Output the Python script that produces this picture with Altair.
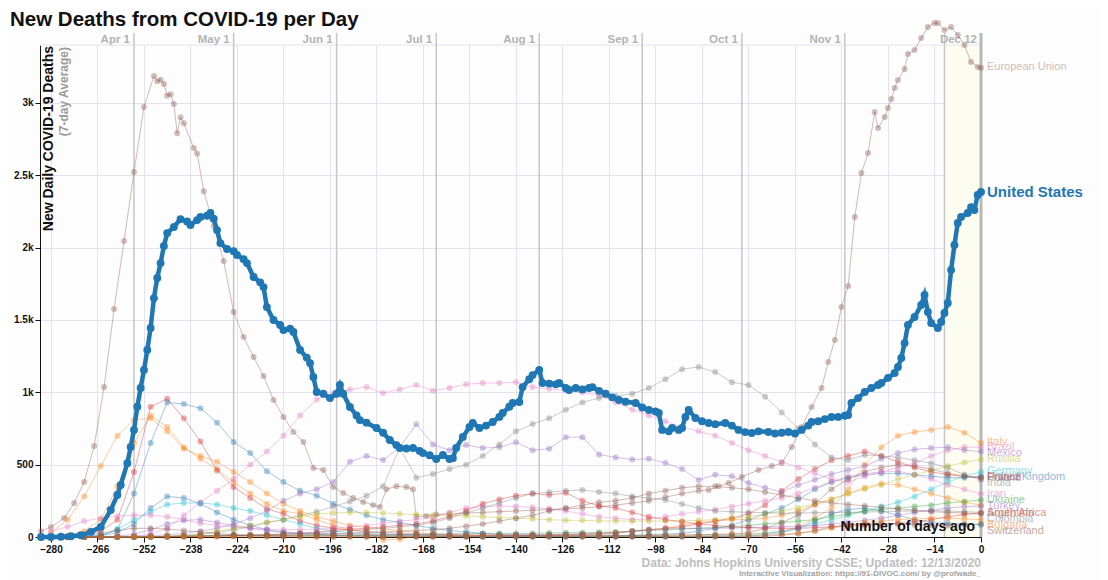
import altair as alt
import pandas as pd

FONT = "Liberation Sans"

TITLE = "New Deaths from COVID-19 per Day"
Y_TITLE = "New Daily COVID-19 Deaths"
Y_SUBTITLE = "(7-day Average)"
X_TITLE = "Number of days ago"
SOURCE = "Data: Johns Hopkins University CSSE; Updated: 12/13/2020"
CREDIT = "Interactive Visualization: https://91-DIVOC.com/ by @profwade_"

X_TICKS = [-280, -266, -252, -238, -224, -210, -196, -182, -168, -154, -140,
           -126, -112, -98, -84, -70, -56, -42, -28, -14, 0]
Y_TICKS = [0, 500, 1000, 1500, 2000, 2500, 3000]

MONTH_NAMES = ["Apr 1", "May 1", "Jun 1", "Jul 1", "Aug 1", "Sep 1", "Oct 1", "Nov 1", "Dec 1", "Dec 12"]
MONTH_DAYS = [-255, -225, -194, -164, -133, -102, -72, -41, -11, 0]
MONTH_LABELLED = [True, True, True, True, True, True, True, True, False, True]

# United States (day, deaths)
US_SERIES = [
    (-283, 0), (-280, 0), (-277, 2), (-274, 5), (-271, 12), (-268, 35), (-265, 70), (-262, 187),
    (-260, 290), (-259, 360), (-257, 510), (-256, 622), (-255, 740), (-254, 900), (-253, 1030),
    (-252, 1154), (-251, 1292), (-250, 1444), (-249, 1651), (-248, 1790), (-247, 1893), (-246, 2011),
    (-245, 2100), (-243, 2142), (-241, 2197), (-239, 2180), (-238, 2156), (-236, 2190), (-235, 2211),
    (-233, 2220), (-232, 2239), (-231, 2200), (-230, 2121), (-229, 2031), (-227, 1990), (-225, 1975),
    (-224, 1949), (-222, 1920), (-221, 1893), (-219, 1797), (-217, 1760), (-216, 1727), (-215, 1589),
    (-213, 1500), (-211, 1465), (-210, 1430), (-208, 1440), (-207, 1417), (-205, 1292), (-203, 1240),
    (-202, 1202), (-201, 1106), (-200, 1002), (-198, 990), (-196, 960), (-194, 990), (-193, 1050),
    (-192, 990), (-190, 898), (-188, 840), (-187, 808), (-185, 790), (-182, 753), (-180, 720),
    (-178, 670), (-176, 635), (-175, 615), (-173, 612), (-171, 615), (-169, 595), (-168, 580),
    (-166, 565), (-164, 539), (-162, 567), (-160, 539), (-159, 545), (-158, 615), (-156, 691),
    (-154, 760), (-153, 788), (-151, 753), (-149, 770), (-147, 795), (-145, 830), (-144, 857),
    (-142, 900), (-141, 926), (-139, 933), (-138, 1036), (-136, 1090), (-135, 1119), (-133, 1154),
    (-132, 1064), (-130, 1060), (-128, 1055), (-127, 1064), (-125, 1030), (-124, 1016), (-122, 1030),
    (-120, 1020), (-118, 1030), (-117, 1036), (-115, 1010), (-113, 990), (-111, 965), (-109, 947),
    (-107, 935), (-104, 926), (-102, 895), (-100, 878), (-98, 868), (-97, 857), (-96, 740),
    (-94, 730), (-93, 753), (-91, 740), (-90, 753), (-89, 830), (-88, 878), (-86, 822), (-84, 800),
    (-82, 788), (-80, 780), (-77, 788), (-75, 770), (-73, 740), (-71, 725), (-69, 719), (-67, 730),
    (-64, 726), (-62, 715), (-60, 720), (-58, 726), (-56, 715), (-54, 740), (-52, 770), (-51, 795),
    (-49, 800), (-47, 815), (-45, 829), (-43, 830), (-41, 838), (-40, 843), (-39, 926), (-37, 960),
    (-35, 1002), (-33, 1030), (-31, 1050), (-30, 1064), (-28, 1100), (-26, 1133), (-25, 1175),
    (-24, 1237), (-23, 1340), (-22, 1465), (-20, 1520), (-18, 1603), (-17, 1672), (-16, 1555),
    (-15, 1479), (-13, 1444), (-12, 1486), (-11, 1548), (-10, 1617), (-9, 1845), (-8, 2018),
    (-7, 2170), (-6, 2211), (-4, 2239), (-3, 2280), (-2, 2260), (-1, 2363), (0, 2384),
]

# European Union (day, deaths)
EU_SERIES = [
    (-283, 40), (-280, 69), (-276, 131), (-273, 235), (-270, 380), (-267, 629), (-264, 1036),
    (-261, 1575), (-258, 2045), (-255, 2522), (-252, 2971), (-249, 3186), (-248, 3150), (-247, 3160),
    (-246, 3130), (-245, 3050), (-244, 3060), (-243, 2992), (-242, 2790), (-241, 2900), (-240, 2860),
    (-237, 2688), (-236, 2650), (-234, 2390), (-231, 2150), (-228, 1907), (-225, 1555), (-222, 1382),
    (-219, 1244), (-216, 1113), (-213, 947), (-210, 829), (-207, 726), (-204, 657), (-201, 477),
    (-198, 463), (-195, 346), (-192, 304), (-189, 270), (-186, 242), (-183, 221), (-181, 207),
    (-179, 330), (-176, 350), (-173, 345), (-171, 330), (-170, 140), (-167, 145), (-164, 155),
    (-160, 160), (-155, 165), (-150, 170), (-145, 175), (-140, 180), (-135, 185), (-130, 190),
    (-125, 195), (-120, 200), (-115, 210), (-110, 220), (-105, 235), (-100, 250), (-95, 275),
    (-90, 300), (-85, 320), (-82, 325), (-79, 350), (-76, 373), (-72, 415), (-67, 463), (-63, 490),
    (-60, 511), (-57, 622), (-54, 760), (-51, 898), (-48, 1030), (-46, 1209), (-44, 1361),
    (-42, 1589), (-40, 1734), (-38, 2211), (-36, 2515), (-34, 2653), (-32, 2937), (-31, 2826),
    (-29, 2902), (-28, 2964), (-27, 3026), (-26, 3103), (-25, 3158), (-23, 3234), (-22, 3337),
    (-20, 3365), (-18, 3448), (-16, 3524), (-14, 3552), (-13, 3552), (-11, 3503), (-9, 3524),
    (-7, 3469), (-5, 3400), (-3, 3282), (-1, 3248), (0, 3241),
]

# other countries, sampled every 5 days from -280 to 0
GRID_DAYS = list(range(-280, 1, 5))

ITALY = [30, 120, 280, 490, 700, 810, 820, 730, 610, 560, 520, 450, 380, 300, 230, 180, 140, 110, 80, 65,
         55, 45, 30, 22, 15, 12, 10, 8, 6, 5, 5, 6, 7, 8, 8, 9, 10, 12, 13, 15,
         18, 20, 22, 28, 40, 70, 130, 200, 330, 500, 620, 700, 725, 740, 760, 720, 650]
SPAIN = [2, 10, 40, 120, 350, 650, 840, 760, 620, 540, 470, 380, 300, 230, 180, 160, 120, 80, 50, 30,
         -20, -15, 5, 5, 3, 3, 3, 5, 5, 5, 8, 10, 15, 20, 30, 40, 50, 60, 80, 100,
         110, 120, 120, 130, 150, 180, 220, 260, 300, 340, 370, 360, 330, 300, 270, 240, 220]
FRANCE = [2, 5, 15, 40, 120, 450, 900, 955, 820, 660, 460, 346, 270, 195, 160, 110, 80, 60, 50, 40,
          30, 25, 20, 15, 12, 10, 10, 10, 12, 12, 15, 18, 20, 25, 30, 40, 50, 60, 70, 90,
          110, 130, 160, 220, 320, 400, 470, 530, 560, 590, 560, 520, 480, 450, 430, 420, 410]
UK = [0, 2, 5, 10, 50, 300, 650, 930, 919, 890, 790, 657, 580, 455, 380, 320, 285, 230, 190, 150,
      120, 100, 80, 60, 45, 35, 25, 15, 12, 10, 10, 8, 8, 8, 9, 10, 15, 20, 25, 40,
      60, 80, 120, 160, 200, 260, 330, 380, 410, 430, 440, 440, 430, 420, 410, 410, 420]
GERMANY = [0, 0, 2, 8, 55, 117, 175, 225, 235, 235, 225, 200, 180, 150, 120, 90, 60, 40, 30, 25,
           20, 15, 10, 8, 6, 5, 5, 5, 5, 5, 5, 5, 5, 5, 6, 6, 6, 6, 6, 8,
           10, 12, 15, 25, 40, 60, 90, 120, 150, 180, 210, 240, 280, 330, 380, 420, 450]
BELGIUM = [0, 0, 2, 8, 30, 90, 200, 280, 270, 230, 170, 120, 80, 50, 35, 25, 20, 12, 8, 6,
           5, 5, 4, 4, 4, 3, 3, 3, 3, 3, 3, 3, 3, 3, 3, 3, 3, 4, 4, 4,
           5, 6, 8, 15, 30, 60, 110, 160, 190, 200, 180, 150, 120, 100, 95, 90, 85]
BRAZIL = [0, 0, 0, 0, 2, 5, 20, 60, 150, 240, 320, 400, 500, 590, 700, 840, 950, 995, 1020, 1036,
          995, 1020, 1050, 1010, 1030, 1055, 1064, 1064, 1070, 1036, 1025, 1010, 1000, 981, 930, 880, 840, 800, 760, 730,
          700, 650, 600, 560, 520, 480, 440, 400, 380, 420, 450, 480, 510, 560, 600, 620, 622]
MEXICO = [0, 0, 0, 0, 2, 5, 10, 15, 25, 40, 60, 90, 130, 180, 250, 300, 330, 380, 520, 560,
          532, 620, 780, 640, 600, 636, 615, 620, 655, 600, 610, 690, 690, 570, 550, 535, 540, 511, 470, 394,
          430, 420, 373, 340, 311, 360, 395, 435, 463, 490, 540, 580, 605, 615, 620, 600, 590]
INDIA = [0, 0, 0, 0, 0, 0, 2, 2, 10, 20, 30, 50, 70, 100, 120, 150, 175, 210, 245, 285,
         350, 615, 410, 435, 470, 500, 560, 640, 730, 781, 820, 880, 930, 960, 975, 990, 1030, 1090, 1160, 1175,
         1140, 1070, 1050, 970, 860, 750, 640, 550, 532, 567, 560, 550, 530, 510, 480, 430, 394]
IRAN = [40, 70, 110, 130, 145, 150, 150, 140, 120, 95, 80, 70, 60, 55, 50, 50, 55, 60, 70, 80,
        95, 110, 120, 140, 170, 200, 210, 215, 210, 205, 195, 180, 160, 140, 130, 120, 125, 140, 160, 175,
        190, 210, 230, 250, 270, 300, 340, 380, 420, 440, 450, 455, 430, 400, 360, 330, 297]
RUSSIA = [0, 0, 0, 0, 0, 0, 2, 5, 10, 20, 40, 60, 80, 100, 120, 140, 160, 165, 170, 170,
          165, 160, 155, 150, 150, 145, 140, 135, 130, 125, 120, 115, 115, 112, 110, 110, 110, 110, 112, 115,
          120, 130, 140, 160, 180, 200, 230, 260, 300, 330, 360, 400, 430, 460, 490, 515, 535]
UKRAINE = [0, 0, 0, 0, 0, 1, 2, 3, 5, 7, 10, 12, 12, 12, 12, 11, 10, 10, 10, 10,
           12, 15, 18, 20, 20, 22, 25, 25, 25, 25, 28, 30, 30, 32, 35, 40, 45, 50, 55, 60,
           65, 70, 80, 90, 100, 110, 120, 140, 160, 180, 190, 200, 210, 220, 235, 245, 256]
TURKEY = [0, 0, 0, 0, 5, 20, 50, 90, 115, 120, 100, 80, 60, 45, 30, 25, 25, 22, 20, 18,
          18, 18, 18, 18, 20, 20, 20, 19, 18, 18, 18, 19, 20, 22, 25, 40, 50, 55, 60, 60,
          60, 62, 65, 68, 70, 75, 80, 90, 100, 115, 130, 150, 170, 185, 200, 210, 214]
SOUTH_AFRICA = [0, 0, 0, 0, 0, 0, 1, 2, 3, 5, 7, 10, 12, 15, 20, 25, 35, 45, 55, 60,
                70, 80, 90, 110, 140, 180, 230, 260, 285, 300, 290, 305, 250, 215, 200, 170, 140, 120, 105, 90,
                80, 70, 65, 60, 60, 60, 65, 70, 75, 80, 85, 95, 105, 120, 140, 155, 166]
POLAND = [0, 0, 0, 0, 0, 1, 3, 5, 8, 10, 12, 12, 12, 12, 12, 12, 12, 12, 12, 12,
          10, 10, 10, 10, 8, 8, 8, 9, 10, 10, 11, 12, 12, 12, 12, 12, 12, 13, 14, 15,
          18, 20, 30, 60, 100, 150, 230, 330, 400, 450, 480, 500, 490, 470, 440, 420, 408]
COLOMBIA = [0, 0, 0, 0, 0, 1, 2, 3, 5, 7, 10, 12, 15, 18, 20, 25, 30, 38, 45, 52,
            60, 70, 80, 100, 130, 165, 200, 235, 270, 300, 310, 320, 325, 311, 300, 280, 270, 256, 228, 200,
            180, 175, 170, 168, 165, 165, 168, 170, 170, 172, 175, 178, 180, 182, 180, 175, 170]
ARGENTINA = [0, 0, 0, 0, 0, 0, 1, 2, 3, 4, 5, 6, 8, 10, 12, 15, 18, 22, 25, 30,
             35, 40, 45, 50, 60, 75, 90, 110, 130, 150, 180, 200, 220, 240, 250, 270, 300, 320, 340, 350,
             350, 340, 330, 310, 290, 270, 250, 235, 225, 215, 205, 195, 185, 175, 170, 165, 160]
BULGARIA = [0, 0, 0, 0, 0, 1, 1, 2, 2, 2, 2, 2, 2, 1, 1, 1, 1, 1, 2, 2,
            2, 3, 3, 4, 5, 5, 6, 6, 6, 5, 5, 5, 4, 4, 4, 4, 4, 4, 5, 5,
            6, 7, 8, 12, 18, 25, 40, 60, 80, 100, 110, 120, 125, 130, 130, 125, 120]
SWITZERLAND = [2, 5, 10, 25, 45, 60, 60, 55, 45, 35, 25, 15, 8, 5, 3, 2, 1, 1, 1, 1,
               1, 1, 1, 1, 1, 1, 1, 1, 1, 1, 1, 1, 1, 1, 1, 1, 1, 1, 1, 2,
               2, 2, 2, 5, 12, 25, 45, 70, 85, 90, 95, 90, 85, 80, 80, 85, 90]

GRID_SERIES = {
    "Italy": ITALY, "Spain": SPAIN, "France": FRANCE, "United Kingdom": UK,
    "Germany": GERMANY, "Belgium": BELGIUM, "Brazil": BRAZIL, "Mexico": MEXICO,
    "India": INDIA, "Iran": IRAN, "Russia": RUSSIA, "Ukraine": UKRAINE, "Turkey": TURKEY,
    "South Africa": SOUTH_AFRICA, "Poland": POLAND, "Colombia": COLOMBIA,
    "Argentina": ARGENTINA, "Bulgaria": BULGARIA, "Switzerland": SWITZERLAND,
}

COUNTRY_COLORS = {
    "European Union": "#8c564b", "Italy": "#ff7f0e", "Spain": "#ff7f0e", "France": "#d62728",
    "United Kingdom": "#1f77b4", "Germany": "#17becf", "Belgium": "#1f77b4", "Brazil": "#e377c2",
    "Mexico": "#9467bd", "India": "#7f7f7f", "Iran": "#e377c2", "Russia": "#bcbd22",
    "Ukraine": "#2ca02c", "Turkey": "#9467bd", "South Africa": "#d62728", "Poland": "#8c564b",
    "Colombia": "#7f7f7f", "Argentina": "#8c564b", "Bulgaria": "#ff7f0e", "Switzerland": "#8c564b",
}

LABEL_NAMES = ["Italy", "Brazil", "Mexico", "Russia", "Germany", "United Kingdom", "France", "Poland",
               "India", "Iran", "Ukraine", "Turkey", "South Africa", "Argentina", "Colombia",
               "Bulgaria", "Switzerland"]
LABEL_VALUES = [656, 622, 580, 539, 456, 415, 415, 408, 373, 297, 256, 214, 166, 166, 124, 83, 41]
EU_LABEL_VALUE = 3248
US_LABEL_VALUE = 2384

# ---------------------------------------------------------------- data frames
rows = [{"country": "European Union", "day": d, "deaths": v} for d, v in EU_SERIES]
for name, vals in GRID_SERIES.items():
    for d, v in zip(GRID_DAYS, vals):
        rows.append({"country": name, "day": d, "deaths": v})
others = pd.DataFrame(rows)
us = pd.DataFrame(US_SERIES, columns=["day", "deaths"])
months = pd.DataFrame({"day": MONTH_DAYS, "name": MONTH_NAMES, "show": MONTH_LABELLED})
labels = pd.DataFrame({"country": LABEL_NAMES, "lv": LABEL_VALUES, "day": 0})
ONE = pd.DataFrame({"k": [0]})

W, H = 941, 492
GRID_COLOR = "#e4e2f1"

XS = alt.Scale(domain=[-283.3, 0], nice=False, zero=False)
YS = alt.Scale(domain=[0, 3400], nice=False, zero=False)
XA = alt.Axis(values=X_TICKS, title=None, grid=True, labelFlush=False, tickSize=5, labelPadding=2)
YA = alt.Axis(values=Y_TICKS, title=None, grid=True, labelFlush=False, tickSize=5,
              labelExpr="datum.value >= 1000 ? format(datum.value / 1000, '~g') + 'k' : format(datum.value, 'd')")


def xe(f):
    return alt.X(f, type="quantitative", scale=XS, axis=XA)


def ye(f):
    return alt.Y(f, type="quantitative", scale=YS, axis=YA)


names = list(COUNTRY_COLORS.keys())
CS = alt.Scale(domain=names, range=[COUNTRY_COLORS[n] for n in names])

band = alt.Chart(pd.DataFrame({"start": [-11], "end": [0]})).mark_rect(color="#fcfcf1").encode(
    x=xe("start"), x2="end", y=alt.value(0), y2=alt.value(H))

top_line = alt.Chart(ONE).mark_rule(color=GRID_COLOR, strokeWidth=1).encode(
    x=alt.value(0), x2=alt.value(W), y=alt.value(0))

month_rules = alt.Chart(months).mark_rule(color="#c6c6c6", strokeWidth=1.5).encode(
    x=xe("day"), y=alt.value(-12), y2=alt.value(H))

zero_rule = alt.Chart(pd.DataFrame({"day": [0]})).mark_rule(color="#b8b8b8", strokeWidth=3).encode(
    x=xe("day"), y=alt.value(-12), y2=alt.value(H))

month_text = alt.Chart(months).transform_filter("datum.show").mark_text(
    align="right", baseline="alphabetic", dx=-4, font=FONT, fontSize=11.5, fontWeight="bold",
    color="#b3b3b3").encode(x=xe("day"), y=alt.value(-2), text="name:N")

other_lines = alt.Chart(others).mark_line(strokeWidth=1, opacity=0.4).encode(
    x=xe("day"), y=ye("deaths"), color=alt.Color("country:N", scale=CS, legend=None))
other_pts = alt.Chart(others).mark_circle(size=36, opacity=0.38).encode(
    x=xe("day"), y=ye("deaths"), color=alt.Color("country:N", scale=CS, legend=None))

x_title = alt.Chart(ONE).mark_text(
    text=X_TITLE, align="right", baseline="alphabetic", font=FONT, fontSize=14, fontWeight="bold",
    color="#111111").encode(x=alt.value(935), y=alt.value(486))

us_line = alt.Chart(us).mark_line(color="#1f77b4", strokeWidth=4.5).encode(x=xe("day"), y=ye("deaths"))
us_pts = alt.Chart(us).mark_circle(color="#1f77b4", size=62, opacity=1).encode(x=xe("day"), y=ye("deaths"))

lab = alt.Chart(labels).mark_text(align="left", baseline="middle", dx=6, font=FONT, fontSize=11,
                                  opacity=0.5).encode(
    x=xe("day"), y=ye("lv"), text="country:N", color=alt.Color("country:N", scale=CS, legend=None))

eu_lab = alt.Chart(pd.DataFrame({"day": [0], "lv": [EU_LABEL_VALUE]})).mark_text(
    text="European Union", align="left", baseline="middle", dx=6, font=FONT, fontSize=11,
    color="#8c564b", opacity=0.4).encode(x=xe("day"), y=ye("lv"))

us_lab = alt.Chart(pd.DataFrame({"day": [0], "lv": [US_LABEL_VALUE]})).mark_text(
    text="United States", align="left", baseline="middle", dx=6, font=FONT, fontSize=15,
    fontWeight="bold", color="#1f77b4").encode(x=xe("day"), y=ye("lv"))

y_title = alt.Chart(ONE).mark_text(
    text=Y_TITLE, angle=270, align="right", baseline="middle", font=FONT, fontSize=14,
    fontWeight="bold", color="#111111").encode(x=alt.value(9), y=alt.value(1))
y_sub = alt.Chart(ONE).mark_text(
    text=Y_SUBTITLE, angle=270, align="right", baseline="middle", font=FONT, fontSize=12,
    fontWeight="bold", color="#9a9a9a").encode(x=alt.value(24), y=alt.value(2))

title = alt.Chart(ONE).mark_text(
    text=TITLE, align="left", baseline="alphabetic", font=FONT, fontSize=20.5, fontWeight="bold",
    color="#111111").encode(x=alt.value(-30), y=alt.value(-19))

source = alt.Chart(ONE).mark_text(
    text=SOURCE, align="right", baseline="middle", font=FONT, fontSize=12, fontWeight="bold",
    color="#bdbdbd").encode(x=alt.value(W), y=alt.value(518))
credit = alt.Chart(ONE).mark_text(
    text=CREDIT, align="right", baseline="middle", font=FONT, fontSize=8, fontWeight="bold",
    color="#a3a3a3").encode(x=alt.value(W), y=alt.value(529))

chart = alt.layer(
    band, top_line, month_rules, zero_rule, month_text,
    other_lines, other_pts, x_title, us_line, us_pts,
    lab, eu_lab, us_lab, y_title, y_sub, title, source, credit,
).properties(
    width=W, height=H,
    autosize=alt.AutoSizeParams(type="none"),
    padding={"left": 32, "top": 37, "right": 119, "bottom": 42},
    background="#fdfdfd",
).configure_view(stroke=None).configure_axis(
    labelFont=FONT, labelFontWeight="bold", labelFontSize=10, labelColor="#111111",
    domainColor="#111111", tickColor="#111111", gridColor=GRID_COLOR, gridWidth=1,
)

chart.save("out.html", embed_options={"renderer": "svg", "actions": False})
